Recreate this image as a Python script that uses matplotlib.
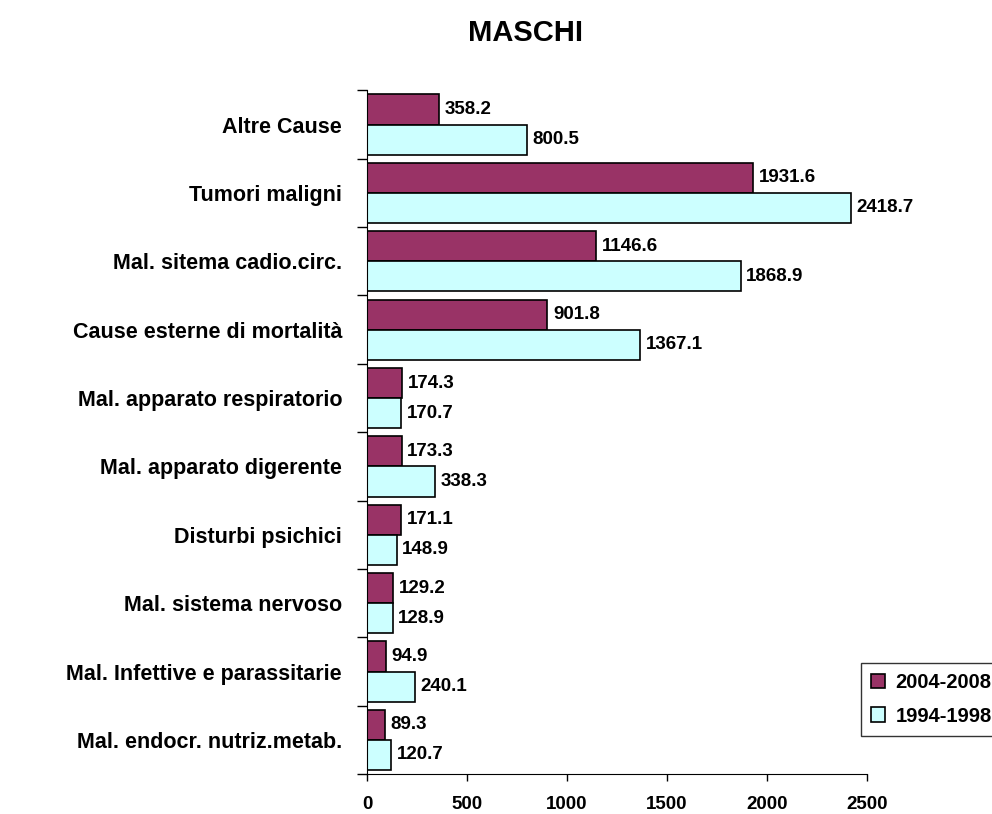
import matplotlib.pyplot as plt
import numpy as np

plt.rcParams['font.family'] = ['Liberation Sans', 'DejaVu Sans']
plt.rcParams['font.weight'] = 'bold'

categories = ["Altre Cause", "Tumori maligni", "Mal. sitema cadio.circ.",
              "Cause esterne di mortalità", "Mal. apparato respiratorio",
              "Mal. apparato digerente", "Disturbi psichici",
              "Mal. sistema nervoso", "Mal. Infettive e parassitarie",
              "Mal. endocr. nutriz.metab."]
v2004 = [358.2, 1931.6, 1146.6, 901.8, 174.3, 173.3, 171.1, 129.2, 94.9, 89.3]
v1994 = [800.5, 2418.7, 1868.9, 1367.1, 170.7, 338.3, 148.9, 128.9, 240.1, 120.7]
series_names = ["2004-2008", "1994-1998"]
xticks = [0, 500, 1000, 1500, 2000, 2500]

fig = plt.figure(figsize=(9.92, 8.14), dpi=100)
ax = fig.add_axes([0.370, 0.049, 0.504, 0.840])

y = np.arange(len(categories))
h = 0.44
b1 = ax.barh(y - h / 2, v2004, height=h, color="#993366", edgecolor="black", linewidth=1.2)
b2 = ax.barh(y + h / 2, v1994, height=h, color="#CCFFFF", edgecolor="black", linewidth=1.2)

for bars, vals in ((b1, v2004), (b2, v1994)):
    for bar, v in zip(bars, vals):
        ax.annotate(f"{v:.1f}", (v, bar.get_y() + bar.get_height() / 2),
                    xytext=(4, 0), textcoords="offset points",
                    va="center", ha="left", fontsize=13.5, fontweight="bold")

ax.set_xlim(0, 2500)
ax.set_ylim(len(categories) - 0.5, -0.5)
ax.set_xticks(xticks)
ax.set_xticklabels([str(t) for t in xticks], fontsize=13.5, fontweight="bold")
ax.tick_params(axis="x", direction="out", length=5, width=1, pad=11)

ax.set_yticks(y)
ax.set_yticklabels(categories, fontsize=15.5, fontweight="bold")
ax.tick_params(axis="y", which="major", length=0, pad=18)
ax.set_yticks(np.arange(len(categories) + 1) - 0.5, minor=True)
ax.tick_params(axis="y", which="minor", length=7, width=1, direction="out")

for s in ["top", "right"]:
    ax.spines[s].set_visible(False)
ax.spines["left"].set_color("black")
ax.spines["bottom"].set_color("black")

fig.text(0.53, 0.96, "MASCHI", ha="center", va="center", fontsize=21, fontweight="bold")

leg = fig.legend([b1, b2], series_names, loc="upper left",
                 bbox_to_anchor=(0.868, 0.185), fontsize=14.5, frameon=True,
                 fancybox=False, edgecolor="black", handlelength=0.7,
                 handleheight=0.7, handletextpad=0.5, labelspacing=0.7,
                 borderpad=0.5, borderaxespad=0)
leg.get_frame().set_linewidth(1)

fig.savefig("out.png", dpi=100)
